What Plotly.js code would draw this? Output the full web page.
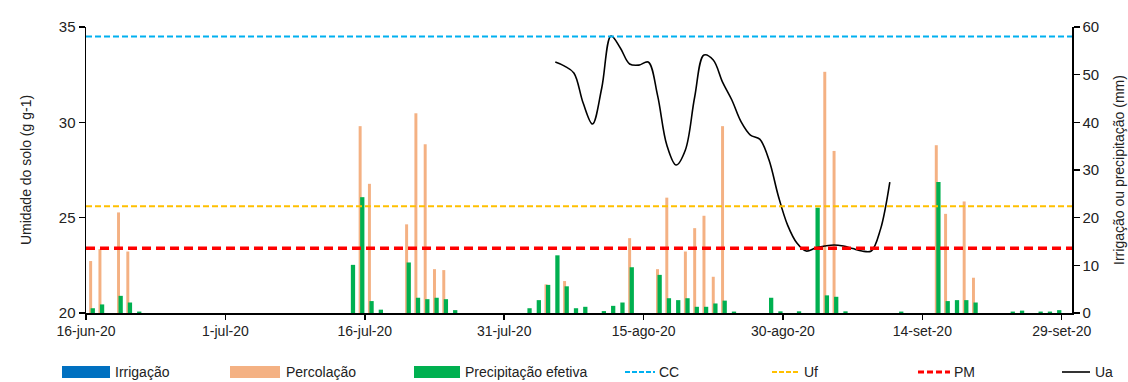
<!DOCTYPE html>
<html><head><meta charset="utf-8">
<script src="https://cdn.plot.ly/plotly-3.0.1.min.js"></script>
<style>html,body{margin:0;padding:0;background:#fff}#chart{width:1128px;height:382px}</style>
</head><body><div id="chart"></div>
<script>
// ---- data ----
const barDates = ['2020-06-16','2020-06-17','2020-06-19','2020-06-20','2020-06-21',
  '2020-07-14','2020-07-15','2020-07-16','2020-07-17',
  '2020-07-20','2020-07-21','2020-07-22','2020-07-23','2020-07-24','2020-07-25',
  '2020-08-02','2020-08-03','2020-08-04','2020-08-05','2020-08-06','2020-08-07','2020-08-08',
  '2020-08-10','2020-08-11','2020-08-12','2020-08-13',
  '2020-08-16','2020-08-17','2020-08-18','2020-08-19','2020-08-20','2020-08-21','2020-08-22','2020-08-23','2020-08-24',
  '2020-08-28','2020-08-29','2020-08-31',
  '2020-09-02','2020-09-03','2020-09-04','2020-09-05',
  '2020-09-11',
  '2020-09-15','2020-09-16','2020-09-17','2020-09-18','2020-09-19',
  '2020-09-23','2020-09-24','2020-09-26','2020-09-27','2020-09-28'];
const irrigacao = barDates.map(() => 0);
const percolacao = [10.9,13.4,21.1,12.9,0,
  0,39.2,27.1,0,
  18.6,41.9,35.4,9.2,9.0,0,
  0,0,6.0,0,6.7,0,0,
  0,0,0,15.7,
  9.2,24.2,0,12.9,17.8,20.4,7.6,39.2,0,
  0,0,0,
  0,50.6,34.0,0,
  0,
  35.2,20.8,0,23.4,7.4,
  0,0,0,0,0];
const precipEfetiva = [1.0,1.8,3.6,2.2,0.3,
  10.1,24.3,2.5,0.7,
  10.6,3.2,2.9,3.2,2.9,0.6,
  1.0,2.7,5.9,12.1,5.6,1.0,1.3,
  0.4,1.5,2.2,9.6,
  8.0,3.1,2.7,3.1,1.3,1.3,2.0,2.6,0.3,
  3.2,0.35,0.35,
  22.1,3.7,3.4,0.35,
  0.3,
  27.5,2.5,2.7,2.7,2.2,
  0.3,0.5,0.3,0.3,0.6];
const uaDates = ['2020-08-05','2020-08-06','2020-08-07','2020-08-08','2020-08-09','2020-08-10','2020-08-11','2020-08-12',
  '2020-08-13','2020-08-14','2020-08-15','2020-08-16','2020-08-17','2020-08-18','2020-08-19','2020-08-20','2020-08-21',
  '2020-08-22','2020-08-23','2020-08-24','2020-08-25','2020-08-26','2020-08-27','2020-08-28','2020-08-29','2020-08-30',
  '2020-08-31','2020-09-01','2020-09-02','2020-09-03','2020-09-04','2020-09-05','2020-09-06','2020-09-07','2020-09-08',
  '2020-09-09','2020-09-10'];
const uaValues = [33.16,32.95,32.59,31.01,29.91,31.80,34.53,33.90,
  33.06,33.00,33.16,31.43,28.81,27.76,28.55,31.33,33.53,
  33.27,32.11,31.17,30.02,29.33,29.12,28.02,26.14,24.61,
  23.67,23.25,23.41,23.51,23.57,23.51,23.38,23.25,23.25,
  24.40,26.87];
const CC = 34.5, UF = 25.6, PM = 23.4;
const tickDates = ['2020-06-16','2020-07-01','2020-07-16','2020-07-31','2020-08-15','2020-08-30','2020-09-14','2020-09-29'];
const tickLabels = ['16-jun-20','1-jul-20','16-jul-20','31-jul-20','15-ago-20','30-ago-20','14-set-20','29-set-20'];
const names = ['Irrigação','Percolação','Precipitação efetiva','CC','Uf','PM','Ua'];

// ---- styles ----
const DAY = 86400000;
const FONT = 'Liberation Sans, Arial, sans-serif';
const colors = {irr:'#0070C0', perc:'#F4B183', prec:'#00B050', cc:'#00B0F0', uf:'#FFC000', pm:'#FF0000', ua:'#000000'};

const traces = [
  {type:'bar', name:names[0], x:barDates, y:irrigacao, xaxis:'x', yaxis:'y',
   marker:{color:colors.irr, line:{width:0}}, offset:0.18*DAY, width:0.3*DAY},
  {type:'bar', name:names[1], x:barDates, y:percolacao, xaxis:'x', yaxis:'y',
   marker:{color:colors.perc, line:{width:0}}, offset:0.34*DAY, width:0.32*DAY},
  {type:'bar', name:names[2], x:barDates, y:precipEfetiva, xaxis:'x', yaxis:'y',
   marker:{color:colors.prec, line:{width:0}}, offset:0.5*DAY, width:0.46*DAY},
  {type:'scatter', mode:'lines', name:names[6], x:uaDates, y:uaValues, xaxis:'x2', yaxis:'y2',
   line:{color:colors.ua, width:1.6, shape:'spline', smoothing:1}}
];

// plot-area pixel helpers for legend placement
const L = 86, R = 1072, T = 27, B = 313;
const px = v => (v - L) / (R - L);
const py = v => (B - v) / (B - T);

const shapes = [
  {type:'line', xref:'paper', x0:0, x1:1, yref:'y2', y0:CC, y1:CC, layer:'above', line:{color:colors.cc, width:2, dash:'6px,3px'}},
  {type:'line', xref:'paper', x0:0, x1:1, yref:'y2', y0:UF, y1:UF, layer:'above', line:{color:colors.uf, width:2, dash:'6px,3px'}},
  {type:'line', xref:'paper', x0:0, x1:1, yref:'y2', y0:PM, y1:PM, layer:'above', line:{color:colors.pm, width:3.5, dash:'9px,5px'}}
];
const annotations = [];
const legY = 372;
const legItems = [
  {name:names[0], kind:'rect', color:colors.irr, x0:62, x1:110, tx:113},
  {name:names[1], kind:'rect', color:colors.perc, x0:230, x1:280, tx:284},
  {name:names[2], kind:'rect', color:colors.prec, x0:414, x1:460, tx:463},
  {name:names[3], kind:'dash', color:colors.cc, w:2, dash:'5px,2px', x0:625, x1:655, tx:657},
  {name:names[4], kind:'dash', color:colors.uf, w:2, dash:'5px,2px', x0:772, x1:800, tx:802},
  {name:names[5], kind:'dash', color:colors.pm, w:3, dash:'6px,3px', x0:918, x1:950, tx:952},
  {name:names[6], kind:'dash', color:colors.ua, w:1.6, dash:'solid', x0:1062, x1:1090, tx:1093}
];
legItems.forEach(it => {
  if (it.kind === 'rect') {
    shapes.push({type:'rect', xref:'paper', yref:'paper', x0:px(it.x0), x1:px(it.x1),
      y0:py(legY+6), y1:py(legY-6), fillcolor:it.color, line:{width:0}});
  } else {
    shapes.push({type:'line', xref:'paper', yref:'paper', x0:px(it.x0), x1:px(it.x1),
      y0:py(legY), y1:py(legY), line:{color:it.color, width:it.w, dash:it.dash}});
  }
  annotations.push({xref:'paper', yref:'paper', x:px(it.tx), y:py(legY), xanchor:'left', yanchor:'middle',
    text:it.name, showarrow:false, font:{family:FONT, size:14, color:'#222'}});
});

const axisCommon = {showgrid:false, zeroline:false, showline:true, linecolor:'#000', linewidth:1.5,
  ticks:'outside', tickcolor:'#000', tickwidth:1.5};

const layout = {
  width:1128, height:382,
  margin:{l:L, r:1128-R, t:T, b:382-B, pad:0},
  paper_bgcolor:'#fff', plot_bgcolor:'#fff',
  showlegend:false, hovermode:false, barmode:'overlay',
  font:{family:FONT, color:'#222'},
  xaxis:Object.assign({}, axisCommon, {type:'date', range:['2020-06-16','2020-09-30 02:30'],
    tickmode:'array', tickvals:tickDates, ticktext:tickLabels, ticklen:5,
    tickfont:{family:FONT, size:14, color:'#222'}}),
  xaxis2:{type:'date', overlaying:'x', range:['2020-06-15 12:00','2020-09-29 14:30'], visible:false},
  yaxis:Object.assign({}, axisCommon, {side:'right', range:[0,60], dtick:10, ticklen:6,
    tickfont:{family:FONT, size:15, color:'#222'},
    title:{text:'Irrigação ou precipitação (mm)', font:{family:FONT, size:14, color:'#222'}, standoff:16}}),
  yaxis2:Object.assign({}, axisCommon, {side:'left', overlaying:'y', range:[20,35], dtick:5, ticklen:6,
    tickfont:{family:FONT, size:15, color:'#222'},
    title:{text:'Umidade do solo (g g-1)', font:{family:FONT, size:14, color:'#222'}, standoff:24}}),
  shapes:shapes, annotations:annotations
};

Plotly.newPlot('chart', traces, layout, {displayModeBar:false, staticPlot:true});
</script></body></html>
